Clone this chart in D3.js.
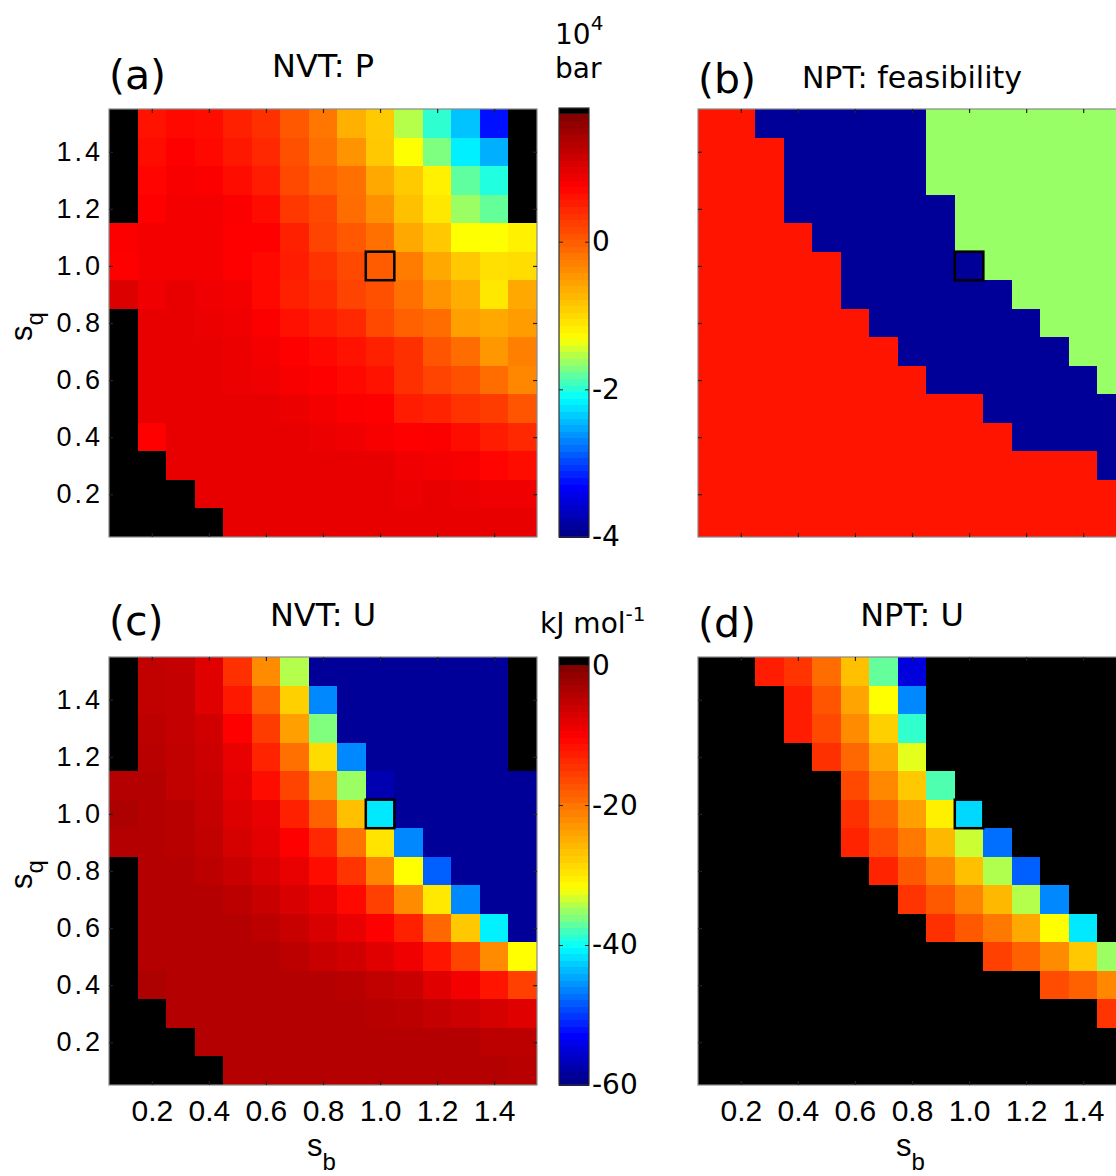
<!DOCTYPE html>
<html><head><meta charset="utf-8">
<script src="https://cdn.jsdelivr.net/npm/d3@7"></script>
<style>
body{margin:0;background:#fff}
svg{display:block}
.tl{font-family:"DejaVu Sans",sans-serif;fill:#000}
.tk{font-family:"Liberation Sans",Arial,sans-serif;fill:#000}
</style>
</head><body>
<svg id="chart" width="1116" height="1176"></svg>
<script>
// ---------------- data ----------------
const sb = [0.1,0.2,0.3,0.4,0.5,0.6,0.7,0.8,0.9,1.0,1.1,1.2,1.3,1.4,1.5];
const sq = [1.5,1.4,1.3,1.2,1.1,1.0,0.9,0.8,0.7,0.6,0.5,0.4,0.3,0.2,0.1]; // rows, top to bottom
const axisTicks = [0.2,0.4,0.6,0.8,1.0,1.2,1.4];
const axisTickLabels = ["0.2","0.4","0.6","0.8","1.0","1.2","1.4"];
const pTicks = [-4,-2,0];
const uTicks = [-60,-40,-20,0];
const highlight = {sb:1.0, sq:1.0};

// NVT pressure, 10^4 bar (null = no value, drawn black)
const pressureNVT = [
 [null,0.60,0.69,0.66,0.50,0.37,0.04,-0.21,-0.67,-0.89,-1.54,-1.96,-2.39,-3.24,null],
 [null,0.66,0.76,0.69,0.56,0.43,0.11,-0.15,-0.44,-0.86,-1.31,-1.71,-2.18,-2.48,null],
 [null,0.72,0.81,0.78,0.66,0.53,0.17,-0.02,-0.15,-0.60,-0.89,-1.19,-1.81,-2.01,null],
 [null,0.76,0.84,0.84,0.78,0.66,0.30,0.17,-0.12,-0.41,-0.80,-1.12,-1.62,-1.79,null],
 [0.78,0.84,0.84,0.84,0.76,0.76,0.50,0.21,0.04,-0.15,-0.60,-0.86,-1.31,-1.31,-1.19],
 [0.76,0.84,0.84,0.84,0.76,0.69,0.53,0.34,0.17,0.01,-0.25,-0.60,-0.86,-1.06,-1.03],
 [1.02,0.87,0.93,0.87,0.84,0.69,0.50,0.40,0.21,0.11,-0.15,-0.44,-0.64,-1.12,-0.60],
 [null,0.93,0.93,0.90,0.87,0.78,0.63,0.53,0.43,0.17,-0.02,-0.12,-0.54,-0.60,-0.51],
 [null,0.93,0.93,0.93,0.90,0.84,0.76,0.69,0.60,0.50,0.37,0.08,-0.12,-0.47,-0.28],
 [null,0.93,0.93,0.93,0.90,0.87,0.81,0.76,0.69,0.60,0.37,0.21,0.11,-0.12,-0.34],
 [null,0.93,0.93,0.93,0.93,0.93,0.90,0.84,0.78,0.76,0.53,0.47,0.34,0.27,0.08],
 [null,0.76,0.93,0.93,0.93,0.93,0.93,0.90,0.87,0.81,0.76,0.78,0.66,0.53,0.43],
 [null,null,0.93,0.93,0.93,0.93,0.93,0.93,0.93,0.93,0.87,0.84,0.81,0.72,0.66],
 [null,null,null,0.93,0.93,0.93,0.93,0.93,0.93,0.93,0.90,0.93,0.90,0.87,0.87],
 [null,null,null,null,0.93,0.93,0.93,0.93,0.93,0.93,0.93,0.93,0.93,0.93,0.93]
];

// NPT feasibility category per cell: 0, 1, 2
const feasibilityNPT = [
 [0,0,1,1,1,1,1,1,2,2,2,2,2,2,2],
 [0,0,0,1,1,1,1,1,2,2,2,2,2,2,2],
 [0,0,0,1,1,1,1,1,2,2,2,2,2,2,2],
 [0,0,0,1,1,1,1,1,1,2,2,2,2,2,2],
 [0,0,0,0,1,1,1,1,1,2,2,2,2,2,2],
 [0,0,0,0,0,1,1,1,1,1,2,2,2,2,2],
 [0,0,0,0,0,1,1,1,1,1,1,2,2,2,2],
 [0,0,0,0,0,0,1,1,1,1,1,1,2,2,2],
 [0,0,0,0,0,0,0,1,1,1,1,1,1,2,2],
 [0,0,0,0,0,0,0,0,1,1,1,1,1,1,2],
 [0,0,0,0,0,0,0,0,0,0,1,1,1,1,1],
 [0,0,0,0,0,0,0,0,0,0,0,1,1,1,1],
 [0,0,0,0,0,0,0,0,0,0,0,0,0,0,1],
 [0,0,0,0,0,0,0,0,0,0,0,0,0,0,0],
 [0,0,0,0,0,0,0,0,0,0,0,0,0,0,0]
];
const feasibilityCategories = [0,1,2];

// NVT energy, kJ/mol
const energyNVT = [
 [null,-5.2,-5.5,-7.7,-14.3,-22.0,-34.3,-58.6,-58.6,-58.6,-58.6,-58.6,-58.6,-58.6,null],
 [null,-5.2,-5.5,-7.7,-12.2,-18.3,-27.8,-46.1,-58.6,-58.6,-58.6,-58.6,-58.6,-58.6,null],
 [null,-4.8,-5.5,-6.5,-10.2,-15.3,-23.7,-36.0,-58.6,-58.6,-58.6,-58.6,-58.6,-58.6,null],
 [null,-4.5,-5.2,-6.1,-8.4,-13.2,-19.7,-28.8,-46.1,-58.6,-58.6,-58.6,-58.6,-58.6,null],
 [-4.2,-4.2,-5.2,-5.8,-8.0,-11.2,-16.0,-23.1,-35.1,-57.3,-58.6,-58.6,-58.6,-58.6,-58.6],
 [-3.6,-4.2,-4.5,-5.5,-7.4,-8.4,-12.9,-18.3,-26.5,-41.3,-58.6,-58.6,-58.6,-58.6,-58.6],
 [-4.2,-4.2,-4.5,-5.2,-6.8,-8.0,-10.2,-13.6,-20.0,-29.5,-46.1,-58.6,-58.6,-58.6,-58.6],
 [null,-4.2,-4.2,-4.8,-5.8,-7.1,-8.4,-11.2,-14.6,-21.4,-31.8,-48.1,-58.6,-58.6,-58.6],
 [null,-4.2,-4.2,-4.2,-4.8,-5.8,-7.1,-8.4,-10.9,-15.6,-22.0,-29.9,-46.1,-58.6,-58.6],
 [null,-4.2,-4.2,-4.2,-4.2,-4.8,-5.8,-7.1,-8.4,-10.2,-12.9,-19.0,-27.1,-40.9,-58.6],
 [null,-4.2,-4.2,-4.2,-4.2,-4.2,-4.8,-5.8,-6.5,-7.7,-9.0,-11.9,-16.0,-22.0,-31.8],
 [null,-3.6,-4.2,-4.2,-4.2,-4.2,-4.2,-4.2,-4.5,-5.2,-5.8,-7.7,-9.3,-11.9,-15.6],
 [null,null,-4.2,-4.2,-4.2,-4.2,-4.2,-4.2,-4.2,-4.5,-4.8,-5.5,-6.1,-6.8,-7.7],
 [null,null,null,-4.2,-4.2,-4.2,-4.2,-4.2,-4.2,-4.2,-4.2,-4.2,-4.2,-4.8,-4.8],
 [null,null,null,null,-4.2,-4.2,-4.2,-4.2,-4.2,-4.2,-4.2,-4.2,-4.2,-4.2,-4.5]
];

// NPT energy, kJ/mol
const energyNPT = [
 [null,null,-12.6,-14.6,-19.4,-26.5,-36.9,-54.8,null,null,null,null,null,null,null],
 [null,null,null,-12.6,-17.3,-24.1,-31.8,-46.1,null,null,null,null,null,null,null],
 [null,null,null,-12.6,-16.3,-22.0,-27.8,-38.6,null,null,null,null,null,null,null],
 [null,null,null,null,-14.3,-19.0,-24.4,-32.7,null,null,null,null,null,null,null],
 [null,null,null,null,null,-16.3,-21.7,-27.1,-37.6,null,null,null,null,null,null],
 [null,null,null,null,null,-14.3,-18.7,-23.7,-30.5,-42.1,null,null,null,null,null],
 [null,null,null,null,null,-13.2,-16.6,-20.4,-25.8,-33.5,-47.3,null,null,null,null],
 [null,null,null,null,null,null,-13.2,-17.7,-21.4,-26.5,-34.4,-48.1,null,null,null],
 [null,null,null,null,null,null,null,-14.6,-17.7,-21.4,-25.8,-34.3,-46.1,null,null],
 [null,null,null,null,null,null,null,null,-14.3,-17.7,-20.4,-24.4,-31.8,-41.3,null],
 [null,null,null,null,null,null,null,null,null,null,-15.6,-18.3,-22.0,-27.1,-35.1],
 [null,null,null,null,null,null,null,null,null,null,null,null,-16.6,-18.3,-21.7],
 [null,null,null,null,null,null,null,null,null,null,null,null,null,null,-14.6],
 [null,null,null,null,null,null,null,null,null,null,null,null,null,null,null],
 [null,null,null,null,null,null,null,null,null,null,null,null,null,null,null]
];

// ---------------- colours ----------------
const jetT = [0, 0.12, 0.33, 0.47, 0.83, 1];
const jetC = ["#000080","#0000ff","#00ffff","#ffff00","#ff0000","#800000"];
const jet = d3.scaleLinear().domain(jetT).range(jetC).interpolate(d3.interpolateRgb).clamp(true);
const pRange = [-4, 1.73], pTop = 1.81;
const uRange = [-60, 0], uTop = 1.15;
const colP = v => v == null ? "#000" : jet((v - pRange[0]) / (pRange[1] - pRange[0]));
const colU = v => v == null ? "#000" : jet((v - uRange[0]) / (uRange[1] - uRange[0]));
const feasColor = d3.scaleOrdinal().domain(feasibilityCategories).range(["#ff1400","#000099","#99ff66"]);

// ---------------- layout ----------------
const SZ = 428;
const svg = d3.select("#chart");

function panel(px, py, matrix, colorFn, opt) {
  const g = svg.append("g");
  const x = d3.scaleLinear().domain([0.05,1.55]).range([px, px+SZ]);
  const y = d3.scaleLinear().domain([0.05,1.55]).range([py+SZ, py]);
  const cells = [];
  matrix.forEach((row,i) => row.forEach((v,j) => cells.push({sb:sb[j], sq:sq[i], v})));
  g.append("g").attr("shape-rendering","crispEdges").selectAll("rect").data(cells).join("rect")
    .attr("x", d => x(d.sb-0.05)).attr("y", d => y(d.sq+0.05))
    .attr("width", d => x(d.sb+0.05)-x(d.sb-0.05)+0.4)
    .attr("height", d => y(d.sq-0.05)-y(d.sq+0.05)+0.4)
    .attr("fill", d => colorFn(d.v));
  // highlight box
  g.append("rect")
    .attr("x", x(highlight.sb-0.05)).attr("y", y(highlight.sq+0.05))
    .attr("width", x(highlight.sb+0.05)-x(highlight.sb-0.05))
    .attr("height", y(highlight.sq-0.05)-y(highlight.sq+0.05))
    .attr("fill","none").attr("stroke","#000").attr("stroke-width",2.5);
  // frame
  g.append("rect").attr("x",px).attr("y",py).attr("width",SZ).attr("height",SZ)
    .attr("fill","none").attr("stroke","#8a8a8a").attr("stroke-width",1.2);
  // axes (inward ticks)
  const fmt = (d) => axisTickLabels[axisTicks.indexOf(d)];
  const ax = [
    [d3.axisLeft(y), px, 0, opt.ylab],
    [d3.axisRight(y), px+SZ, 0, false],
    [d3.axisBottom(x), 0, py+SZ, opt.xlab],
    [d3.axisTop(x), 0, py, false]
  ];
  ax.forEach(([a, tx, ty, lab], k) => {
    a.tickValues(axisTicks).tickSizeInner(-4).tickSizeOuter(0)
     .tickPadding(k===0 ? 6 : 15).tickFormat(lab ? fmt : () => "");
    const ag = g.append("g").attr("transform",`translate(${tx},${ty})`).call(a);
    ag.select(".domain").remove();
    ag.selectAll("line").attr("stroke","#222").attr("stroke-width",1.2);
    ag.selectAll("text").attr("class","tk").attr("fill","#000")
      .style("font-size", k===0 ? "27px" : "30px")
      .style("letter-spacing", k===0 ? "3px" : "0px");
  });
  // panel letter & title
  svg.append("text").attr("class","tl").attr("x",px).attr("y",opt.letterY)
    .style("font-size","41px").text(opt.letter);
  svg.append("text").attr("class","tl").attr("x",px+SZ/2).attr("y",opt.titleY)
    .attr("text-anchor","middle").style("font-size",opt.titleSize+"px").text(opt.title);
  if (opt.ylab) {
    const t = svg.append("text").attr("class","tk").style("font-size","31px")
      .attr("transform",`translate(32,${py+232}) rotate(-90)`);
    t.append("tspan").text("s");
    t.append("tspan").attr("dy",11).style("font-size","24px").text("q");
  }
  if (opt.xlab) {
    const t = svg.append("text").attr("class","tk").style("font-size","31px")
      .attr("x", px+SZ/2-16).attr("y", 1156);
    t.append("tspan").text("s");
    t.append("tspan").attr("dy",14).style("font-size","24px").text("b");
  }
}

function colorbar(cx, top, bot, range, topVal, ticks, colorFn) {
  const w = 30;
  const y = d3.scaleLinear().domain([range[0], topVal]).range([bot, top]);
  const n = 64, step = (range[1]-range[0])/n;
  const bands = d3.range(n).map(i => ({v0: range[0]+i*step, v1: range[0]+(i+1)*step}));
  const g = svg.append("g");
  g.append("g").attr("shape-rendering","crispEdges").selectAll("rect").data(bands).join("rect")
    .attr("x",cx).attr("width",w)
    .attr("y", d => y(d.v1)).attr("height", d => y(d.v0)-y(d.v1)+0.6)
    .attr("fill", d => colorFn((d.v0+d.v1)/2));
  g.append("rect").attr("x",cx).attr("width",w).attr("y",y(topVal)).attr("height",y(range[1])-y(topVal))
    .attr("fill","#000");
  g.append("rect").attr("x",cx).attr("y",top).attr("width",w).attr("height",bot-top)
    .attr("fill","none").attr("stroke","#333").attr("stroke-width",1.2);
  const aR = d3.axisRight(y).tickValues(ticks).tickSizeInner(-4).tickSizeOuter(0).tickPadding(3).tickFormat(d3.format("d"));
  const gr = g.append("g").attr("transform",`translate(${cx+w},0)`).call(aR);
  gr.select(".domain").remove();
  gr.selectAll("line").attr("stroke","#222");
  gr.selectAll("text").attr("class","tl").attr("fill","#000").style("font-size","28px")
    .text(d => d < 0 ? "-" + Math.abs(d) : d);
  const aL = d3.axisLeft(y).tickValues(ticks).tickSizeInner(-4).tickSizeOuter(0).tickFormat(() => "");
  const gl = g.append("g").attr("transform",`translate(${cx},0)`).call(aL);
  gl.select(".domain").remove();
  gl.selectAll("line").attr("stroke","#222");
}

panel(109, 109, pressureNVT, colP, {letter:"(a)", title:"NVT: P", letterY:89, titleY:77, titleSize:32, ylab:true, xlab:false});
panel(698, 109, feasibilityNPT, v => feasColor(v), {letter:"(b)", title:"NPT: feasibility", letterY:93, titleY:88, titleSize:30, ylab:false, xlab:false});
panel(109, 657, energyNVT, colU, {letter:"(c)", title:"NVT: U", letterY:635, titleY:626, titleSize:32, ylab:true, xlab:true});
panel(698, 657, energyNPT, colU, {letter:"(d)", title:"NPT: U", letterY:637, titleY:626, titleSize:32, ylab:false, xlab:true});

colorbar(559, 108, 537, pRange, pTop, pTicks, colP);
colorbar(559, 657, 1085, uRange, uTop, uTicks, colU);

// colour bar units
const u1 = svg.append("text").attr("class","tl").attr("x",555).attr("y",44).style("font-size","28px");
u1.append("tspan").text("10");
u1.append("tspan").attr("dy",-14).style("font-size","20px").text("4");
svg.append("text").attr("class","tl").attr("x",555).attr("y",78).style("font-size","28px").text("bar");
const u2 = svg.append("text").attr("class","tl").attr("x",540).attr("y",633).style("font-size","28px");
u2.append("tspan").text("kJ mol");
u2.append("tspan").attr("dy",-12).style("font-size","20px").text("-1");
</script>
</body></html>
